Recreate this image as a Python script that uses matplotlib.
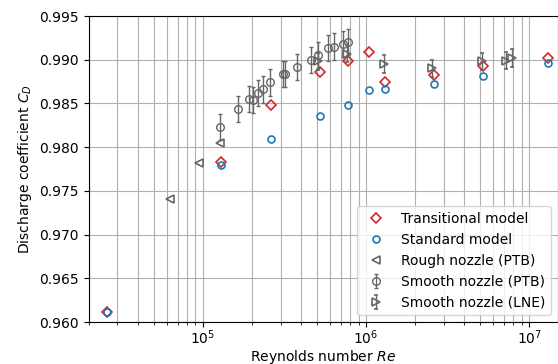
import matplotlib.pyplot as plt

# simulation results
re_sim = [2.6e4, 1.3e5, 2.6e5, 5.2e5, 7.8e5, 1.04e6, 1.3e6, 2.6e6, 5.2e6, 1.3e7]
cd_transitional = [0.9612, 0.9783, 0.9848, 0.9886, 0.9899, 0.9909, 0.9874, 0.9883, 0.9893, 0.9902]
cd_standard = [0.9612, 0.9780, 0.9809, 0.9836, 0.9848, 0.9865, 0.9867, 0.9872, 0.9881, 0.9896]

# measurements
re_rough = [6.3e4, 9.5e4, 1.28e5]
cd_rough = [0.9741, 0.9782, 0.9805]

re_ptb = [1.28e5, 1.65e5, 1.92e5, 2.04e5, 2.18e5, 2.33e5, 2.57e5, 3.12e5, 3.20e5,
          3.76e5, 4.58e5, 5.09e5, 5.86e5, 6.35e5, 7.24e5, 7.71e5]
cd_ptb = [0.9823, 0.9844, 0.9855, 0.9854, 0.9862, 0.9866, 0.9874, 0.9884, 0.9884,
          0.9892, 0.9900, 0.9905, 0.9913, 0.9915, 0.9918, 0.9920]
err_ptb = [0.0015] * len(re_ptb)

re_lne = [5.09e5, 7.6e5, 1.29e6, 2.55e6, 5.16e6, 7.16e6, 7.83e6]
cd_lne = [0.9898, 0.9907, 0.9895, 0.9890, 0.9898, 0.9899, 0.9902]
err_lne = [0.001] * len(re_lne)

fig = plt.figure(figsize=(5.58, 3.64), dpi=100)
ax = fig.add_axes([88.7 / 558, 42 / 364, (558 - 88.7) / 558, 306 / 364])

gray = "0.4"
ax.plot(re_sim, cd_transitional, "D", mfc="none", mec="tab:red", ms=5.5, mew=1.2,
        label="Transitional model", zorder=3)
ax.plot(re_sim, cd_standard, "o", mfc="none", mec="tab:blue", ms=5, mew=1.2,
        label="Standard model", zorder=3)
ax.plot(re_rough, cd_rough, "<", mfc="none", mec=gray, ms=5.5, mew=1.2,
        label="Rough nozzle (PTB)", zorder=3)
ax.errorbar(re_ptb, cd_ptb, yerr=err_ptb, fmt="o", mfc="none", mec=gray, ms=5.5,
            mew=1.0, ecolor=gray, elinewidth=1.0, capsize=1.5,
            label="Smooth nozzle (PTB)", zorder=3)
ax.errorbar(re_lne, cd_lne, yerr=err_lne, fmt=">", mfc="none", mec=gray, ms=5.5,
            mew=1.2, ecolor=gray, elinewidth=1.0, capsize=1.5,
            label="Smooth nozzle (LNE)", zorder=3)

ax.set_xscale("log")
ax.set_xlim(2e4, 1.5e7)
ax.set_ylim(0.960, 0.995)
ax.grid(True, which="both", color="#b0b0b0", lw=0.8)
ax.set_axisbelow(True)
ax.tick_params(axis="x", which="major", pad=1)
ax.set_xlabel("Reynolds number $Re$", labelpad=0.5)
ax.set_ylabel("Discharge coefficient $C_D$")
ax.legend(loc="lower right")

fig.savefig("out.png", dpi=100)
